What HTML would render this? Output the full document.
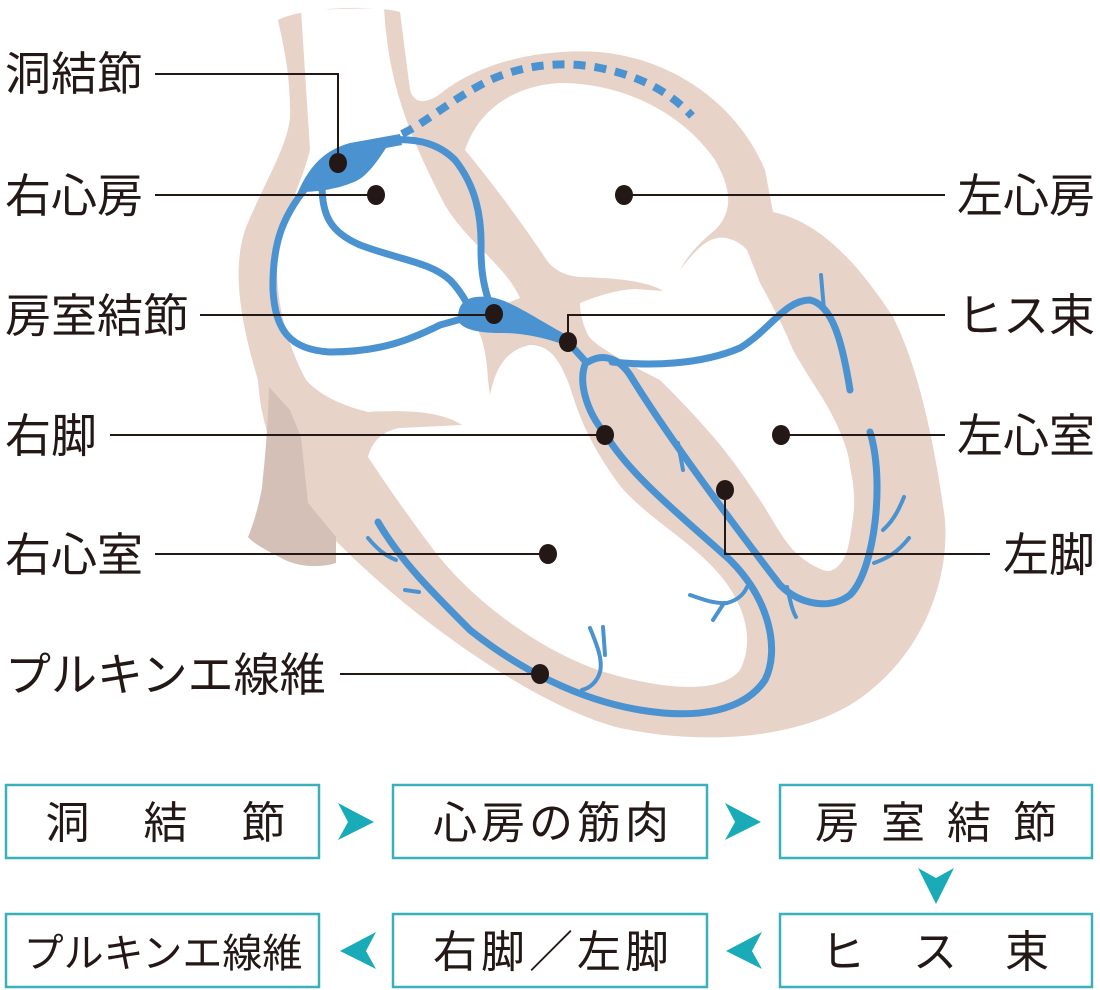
<!DOCTYPE html>
<html><head><meta charset="utf-8"><style>
html,body{margin:0;padding:0;background:#fff;}
svg{display:block;}
text{font-family:"Liberation Sans","Noto Sans CJK JP",sans-serif;fill:#231815;}
</style></head><body>
<svg width="1100" height="990" viewBox="0 0 1100 990" xmlns="http://www.w3.org/2000/svg">
<path fill="#e8d3c9" d="M278,20 C300,8 370,4 400,12 L410,90 C414,104 426,104 440,94 C480,62 540,48 600,52 C680,60 740,110 765,170 L773,212 C800,218 840,235 893,317 C915,360 933,430 945,520 C950,590 915,665 850,705 C790,740 700,745 620,728 C540,708 420,625 340,545 C290,495 262,445 258,380 C240,320 232,270 245,230 C265,180 292,140 290,110 C290,70 282,40 278,20 Z"/>
<path fill="#d4c0b6" d="M269,387 L290,410 L301,437 L308,503 L336,537 L336,563 C320,568 300,567 285,560 C270,552 255,545 248,537 C255,520 260,500 262,487 C266,450 268,420 269,387 Z"/>
<path fill="#fff" d="M301,10 L384,8 C388,70 400,120 446,207 C470,245 505,265 520,298 L470,318 C480,330 486,345 488,380 L490,395 C495,370 505,350 530,345 C550,345 560,360 570,387 C580,420 592,448 621,487 C650,520 690,540 720,575 C745,605 755,640 740,670 C720,695 660,690 598,670 C540,650 470,600 430,545 C400,505 380,475 368,457 C372,440 385,430 400,428 L462,425 C440,410 400,410 368,412 C340,405 320,395 306,380 C285,340 276,300 277,260 C278,225 300,190 310,150 Z"/>
<path fill="#fff" d="M465,150 C480,105 520,85 560,83 C620,83 680,110 715,160 C735,195 730,215 715,230 C700,242 688,255 680,270 C693,253 705,240 717,238 C728,236 740,242 747,250 L760,283 C775,310 785,330 793,350 C810,380 825,400 833,417 C845,440 850,460 850,467 C855,490 855,505 853,517 C850,540 848,552 843,560 C835,572 828,572 823,570 C810,565 800,557 793,550 C780,535 770,515 760,500 C740,470 725,450 710,433 C690,410 675,395 660,380 C640,370 625,362 617,357 C600,347 590,340 587,333 C582,322 580,312 580,303 C595,297 615,290 635,289 L663,291 C650,282 620,278 580,277 C565,276 555,270 548,262 C520,220 490,180 465,150 Z"/>
<path d="M402,134 C430,120 450,100 490,80 C530,62 570,62 600,68 C640,76 670,92 692,116" fill="none" stroke="#4a93d0" stroke-width="8" stroke-dasharray="12 9"/>
<g fill="none" stroke="#4a93d0" stroke-width="7" stroke-linecap="round">
<path d="M304,190 C285,215 272,240 273,290 C275,330 290,350 330,352 C380,352 410,340 440,325 L465,318"/>
<path d="M322,185 C322,215 330,232 360,245 C400,260 430,262 450,280 C460,290 465,300 468,305"/>
<path d="M390,140 C420,138 440,145 455,160 C475,185 482,215 481,250 C481,275 485,290 490,305"/>
<path d="M568,342 L586,362 C578,380 585,410 606,435 C630,475 680,515 730,560 C770,600 780,650 765,680 C745,710 700,720 640,710 C580,700 520,670 470,630 C430,590 400,560 378,522"/>
<path d="M588,362 C605,352 620,360 630,375 C670,440 730,520 780,585 C800,605 830,610 850,595 C875,570 885,480 870,432"/>
<path d="M612,362 C650,366 700,365 740,348 C770,330 785,300 810,300 C832,305 842,340 850,390"/>
</g>
<g fill="none" stroke="#4a93d0" stroke-width="4" stroke-linecap="round">
<path d="M821,275 L824,310"/>
<path d="M678,443 L683,470"/>
<path d="M904,497 C898,512 892,522 883,530"/>
<path d="M909,538 C898,552 888,558 874,563"/>
<path d="M787,587 C790,600 792,610 796,617"/>
<path d="M690,595 C705,600 715,604 727,603 C738,600 744,594 747,587"/>
<path d="M724,603 L713,620"/>
<path d="M590,628 C597,645 603,660 600,672 C597,682 590,688 582,690"/>
<path d="M603,627 L605,655"/>
<path d="M368,538 C378,550 386,556 396,560"/>
<path d="M405,590 L419,592"/>
</g>
<path fill="#4a93d0" d="M298,192 C310,165 325,150 350,143 L400,134 L402,145 L386,148 C375,165 365,178 354,182 C335,190 315,192 298,192 Z"/>
<path fill="#4a93d0" d="M458,318 C458,300 470,295 490,297 C510,300 530,315 572,338 L568,346 C540,336 520,333 500,333 C475,333 458,328 458,318 Z"/>
<g stroke="#231815" stroke-width="2" fill="none">
<path d="M155,74 L338,74 L338,162"/>
<path d="M155,195 L376,195"/>
<path d="M200,315 L494,315"/>
<path d="M110,435 L605,435"/>
<path d="M155,554 L548,554"/>
<path d="M340,674 L540,674"/>
<path d="M624,195 L945,195"/>
<path d="M568,342 L568,315 L945,315"/>
<path d="M781,435 L945,435"/>
<path d="M725,490 L725,554 L990,554"/>
</g>
<g fill="#231815">
<ellipse cx="338" cy="163" rx="9" ry="10"/>
<ellipse cx="376" cy="195" rx="9" ry="10"/>
<ellipse cx="494" cy="314" rx="9" ry="10"/>
<ellipse cx="605" cy="435" rx="9" ry="10"/>
<ellipse cx="548" cy="554" rx="9" ry="10"/>
<ellipse cx="540" cy="674" rx="9" ry="10"/>
<ellipse cx="624" cy="195" rx="9" ry="10"/>
<ellipse cx="568" cy="342" rx="9" ry="10"/>
<ellipse cx="781" cy="435" rx="9" ry="10"/>
<ellipse cx="725" cy="490" rx="9" ry="10"/>
</g>
<g font-size="46">
<text x="5" y="90">洞結節</text>
<text x="5" y="212">右心房</text>
<text x="5" y="332">房室結節</text>
<text x="5" y="452">右脚</text>
<text x="5" y="571">右心室</text>
<text x="5" y="691">プルキンエ線維</text>
<text x="1095" y="212" text-anchor="end">左心房</text>
<text x="1095" y="332" text-anchor="end">ヒス束</text>
<text x="1095" y="452" text-anchor="end">左心室</text>
<text x="1095" y="571" text-anchor="end">左脚</text>
</g>
<g fill="none" stroke="#3ab0b8" stroke-width="2.5">
<rect x="6" y="785" width="313" height="73"/>
<rect x="393" y="785" width="314" height="73"/>
<rect x="780" y="785" width="312" height="73"/>
<rect x="6" y="914" width="313" height="73"/>
<rect x="393" y="914" width="314" height="73"/>
<rect x="780" y="914" width="312" height="73"/>
</g>
<g font-size="44" text-anchor="middle">
<text x="168" y="838" letter-spacing="5">洞　結　節</text>
<text x="553" y="838" letter-spacing="4">心房の筋肉</text>
<text x="947" y="838" letter-spacing="22">房室結節</text>
<text x="163" y="967" font-size="40">プルキンエ線維</text>
<text x="553" y="967" letter-spacing="4">右脚／左脚</text>
<text x="936" y="967" letter-spacing="2">ヒ　ス　束</text>
</g>
<g fill="#1aabb8">
<path d="M338,803 L374,822 L338,840 L348,822 Z"/>
<path d="M725,803 L761,822 L725,840 L735,822 Z"/>
<path d="M918,868 L936,904 L954,868 L936,878 Z"/>
<path d="M376,932 L340,951 L376,969 L366,951 Z"/>
<path d="M762,932 L726,951 L762,969 L752,951 Z"/>
</g>
</svg>
</body></html>
